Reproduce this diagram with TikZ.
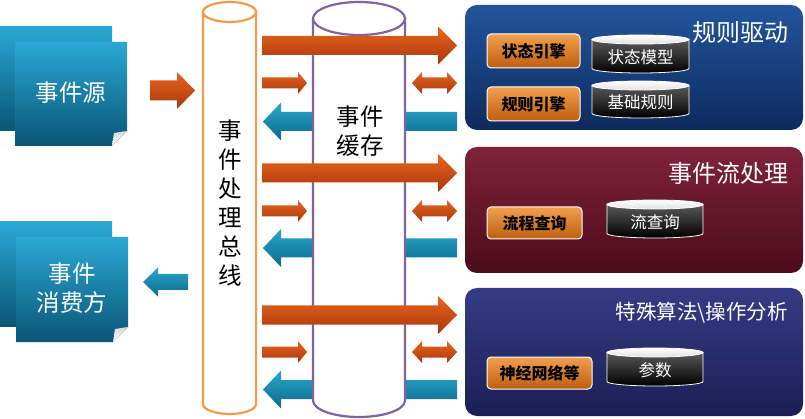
\documentclass[tikz,border=0pt]{standalone}
\usepackage{fontspec}
\setmainfont{Noto Sans CJK SC}
\definecolor{arrtop}{HTML}{E8661E}
\definecolor{arrbot}{HTML}{A9360C}
\definecolor{bartop}{HTML}{2AA6CC}
\definecolor{barbot}{HTML}{0B6A8C}
\definecolor{tealtop}{HTML}{2AA8D5}
\definecolor{tealbot}{HTML}{0A5575}
\definecolor{busline}{HTML}{F29A4E}
\definecolor{cacheline}{HTML}{8064A2}
\definecolor{ruletop}{HTML}{22559C}
\definecolor{rulebot}{HTML}{0D2A5E}
\definecolor{flowtop}{HTML}{80233A}
\definecolor{flowbot}{HTML}{4A0B1B}
\definecolor{algotop}{HTML}{363C84}
\definecolor{algobot}{HTML}{1B1E55}
\definecolor{engtop}{HTML}{F2A04E}
\definecolor{engbot}{HTML}{BD5E0E}
\begin{document}
% right-pointing block arrow: style, tail x, tip x, centre y, shaft half, head half, head length
\newcommand{\blockR}[7]{\path[#1] (#2,#4-#5) -- (#3-#7,#4-#5) -- (#3-#7,#4-#6) -- (#3,#4)
  -- (#3-#7,#4+#6) -- (#3-#7,#4+#5) -- (#2,#4+#5) -- cycle;}
% left-pointing block arrow: style, tip x, tail x, centre y, shaft half, head half, head length
\newcommand{\blockL}[7]{\path[#1] (#3,#4-#5) -- (#2+#7,#4-#5) -- (#2+#7,#4-#6) -- (#2,#4)
  -- (#2+#7,#4+#6) -- (#2+#7,#4+#5) -- (#3,#4+#5) -- cycle;}
% double-headed block arrow: style, left x, right x, centre y, shaft half, head half, head length
\newcommand{\blockLR}[7]{\path[#1] (#2,#4) -- (#2+#7,#4-#6) -- (#2+#7,#4-#5) -- (#3-#7,#4-#5)
  -- (#3-#7,#4-#6) -- (#3,#4) -- (#3-#7,#4+#6) -- (#3-#7,#4+#5) -- (#2+#7,#4+#5) -- (#2+#7,#4+#6) -- cycle;}
% small storage cylinder: node name, left x, right x, top y, bottom y, label
\newcommand{\datacyl}[6]{%
  \pgfmathsetmacro{\cylcx}{(#2+#3)/2}%
  \pgfmathsetmacro{\cylrx}{(#3-#2)/2}%
  \pgfmathsetmacro{\cyltop}{#4+4.5}%
  \pgfmathsetmacro{\cylbot}{#5-4.5}%
  \path[dbbody] (#2,\cyltop) -- (#2,\cylbot) arc[start angle=180,end angle=0,x radius=\cylrx,y radius=4.5] -- (#3,\cyltop) -- cycle;
  \path[dbtop] (\cylcx,\cyltop) ellipse[x radius=\cylrx,y radius=4.5];
  \node[dbtext] (#1) at (\cylcx,{(\cyltop+\cylbot)/2+3}) {#6};
}
\begin{tikzpicture}[x=1pt,y=-1pt,
  orangearrow/.style={top color=arrtop,bottom color=arrbot},
  bluearrow/.style={top color=bartop,bottom color=barbot},
  tealbox/.style={top color=tealtop,bottom color=tealbot},
  panel/.style={rounded corners=12pt},
  enginebox/.style={draw=white,line width=1pt,rounded corners=4pt,top color=engtop,bottom color=engbot,
    inner sep=0pt,font=\bfseries\fontsize{16}{18}\selectfont,text=black},
  dbbody/.style={draw=white,line width=0.8pt,top color=black!65,bottom color=black},
  dbtop/.style={draw=white,line width=0.8pt,top color=white,bottom color=black!12},
  dbtext/.style={text=white,font=\fontsize{16.5}{18}\selectfont},
  bigtext/.style={font=\fontsize{23.5}{29}\selectfont,align=center,inner sep=0pt},
  titletext/.style={text=white,font=\fontsize{24}{26}\selectfont,inner sep=0pt,anchor=east}]
\useasboundingbox (0,0) rectangle (805,419);
\fill[white] (0,0) rectangle (805,419);

% ---- event source ----
\path[tealbox] (0,27) rectangle (112,131);
\path[tealbox] (15,42) -- (127,42) -- (127,131) -- (112,146) -- (15,146) -- cycle;
\path[top color=black!15,bottom color=white] (127,131) -- (112,146) -- (114,133) -- cycle;
\node[bigtext,text=white] (src) at (71,93) {事件源};

% ---- event consumer ----
\path[tealbox] (0,222) rectangle (112,326);
\path[tealbox] (16,237) -- (128,237) -- (128,327) -- (113,342) -- (16,342) -- cycle;
\path[top color=black!15,bottom color=white] (128,327) -- (113,342) -- (115,329) -- cycle;
\node[bigtext,text=white] (sink) at (72,288) {事件\\消费方};

% arrows between the outer boxes and the bus
\blockR{orangearrow}{150}{195}{90.5}{10}{18.5}{18}
\blockL{bluearrow}{143}{188}{282}{8}{14.5}{15}

% ---- blue return arrows (behind the cache) ----
\blockL{bluearrow}{263}{457}{121.5}{9.5}{19}{18}
\blockL{bluearrow}{263}{457}{248}{9.5}{19}{18}
\blockL{bluearrow}{263}{457}{389.5}{9.5}{19}{18}

% ---- event processing bus ----
\fill[white] (203,12) rectangle (256,404);
\fill[white] (229.5,404) ellipse[x radius=26.5,y radius=10];
\draw[busline,line width=2.2pt] (203,12) -- (203,404) arc[start angle=180,end angle=0,x radius=26.5,y radius=10] -- (256,12);
\draw[busline,line width=2.2pt,fill=white] (229.5,12) ellipse[x radius=26.5,y radius=10];
\node[bigtext] (bus) at (230,203) {事\\件\\处\\理\\总\\线};

% ---- event cache ----
\fill[white] (313,18.5) rectangle (405,400.5);
\fill[white] (359,400.5) ellipse[x radius=46,y radius=16.5];
\draw[cacheline,line width=2.2pt] (313,18.5) -- (313,400.5) arc[start angle=180,end angle=0,x radius=46,y radius=16.5] -- (405,18.5);
\draw[cacheline,line width=2.2pt,fill=white] (359,18.5) ellipse[x radius=46,y radius=16.5];
\node[bigtext] (cache) at (360,131) {事件\\缓存};

% ---- forward arrows ----
\foreach \yb/\ys in {45.5/83, 173/211, 315/352}{
  \blockR{orangearrow}{262}{457}{\yb}{9.5}{19}{19}
  \blockR{orangearrow}{262}{307}{\ys}{5.5}{11}{9}
  \blockLR{orangearrow}{412}{457}{\ys}{5.5}{11}{10}
}

% ---- rule-driven panel ----
\path[panel,top color=ruletop,bottom color=rulebot] (465,5) rectangle (803,130);
\node[titletext] (rules) at (789,32) {规则驱动};
\node[enginebox,minimum width=93pt,minimum height=34pt] (stateeng) at (533.5,51) {状态引擎};
\node[enginebox,minimum width=93pt,minimum height=34pt] (ruleeng) at (533.5,104) {规则引擎};
\datacyl{statemodel}{592}{689}{35}{73}{状态模型}
\datacyl{baserules}{592}{689}{81}{118}{基础规则}

% ---- stream processing panel ----
\path[panel,top color=flowtop,bottom color=flowbot] (465,147) rectangle (803,273);
\node[titletext] (stream) at (789,173) {事件流处理};
\node[enginebox,minimum width=95pt,minimum height=32pt] (flowq) at (534.5,223) {流程查询};
\datacyl{streamq}{607}{703}{200}{238}{流查询}

% ---- special algorithm panel ----
\path[panel,top color=algotop,bottom color=algobot] (465,288) rectangle (803,416);
\node[titletext,font=\fontsize{20.5}{24}\selectfont] (algo) at (788,313) {特殊算法\textbackslash 操作分析};
\node[enginebox,minimum width=105pt,minimum height=32pt] (nn) at (539.5,373) {神经网络等};
\datacyl{params}{607}{703}{348}{386}{参数}
\end{tikzpicture}
\end{document}
